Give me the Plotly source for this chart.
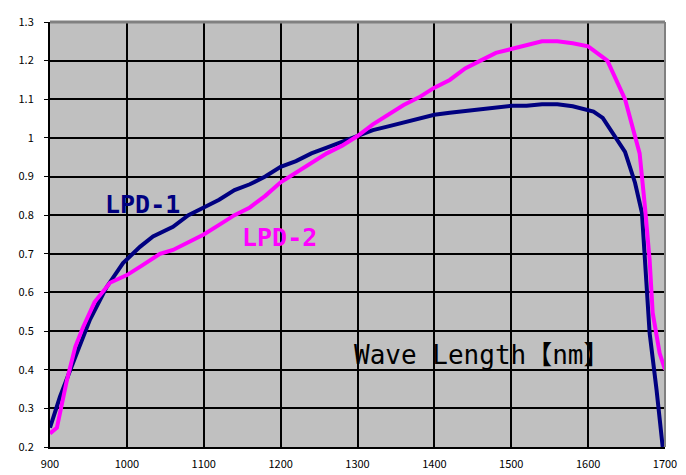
import plotly.graph_objects as go

wavelength_1 = [900, 913, 930, 952, 974, 995, 1017, 1034, 1060, 1080, 1100, 1120, 1140, 1160, 1180,
                1200, 1220, 1240, 1260, 1280, 1300, 1320, 1340, 1360, 1380, 1400, 1420, 1440, 1460,
                1480, 1500, 1520, 1540, 1560, 1580, 1607, 1619, 1648, 1661, 1670, 1674, 1680, 1689, 1697]
lpd1 = [0.25, 0.33, 0.418, 0.53, 0.615, 0.676, 0.718, 0.745, 0.77, 0.80, 0.82, 0.84, 0.865, 0.88, 0.90,
        0.925, 0.94, 0.96, 0.975, 0.99, 1.005, 1.02, 1.03, 1.04, 1.05, 1.06, 1.065, 1.07, 1.075,
        1.08, 1.083, 1.083, 1.087, 1.087, 1.082, 1.068, 1.052, 0.964, 0.884, 0.806, 0.666, 0.495, 0.348, 0.2]

wavelength_2 = [900, 909, 922, 933, 943, 958, 978, 1000, 1020, 1043, 1060, 1080, 1100, 1120, 1140, 1160, 1180,
                1200, 1220, 1240, 1260, 1280, 1300, 1320, 1340, 1360, 1380, 1400, 1420, 1440, 1460,
                1480, 1500, 1520, 1540, 1560, 1580, 1600, 1625, 1648, 1667, 1674, 1680, 1684, 1693, 1700]
lpd2 = [0.235, 0.25, 0.373, 0.46, 0.51, 0.575, 0.625, 0.645, 0.67, 0.70, 0.71, 0.73, 0.75, 0.775, 0.80, 0.82, 0.85,
        0.885, 0.91, 0.935, 0.96, 0.98, 1.005, 1.035, 1.06, 1.085, 1.105, 1.13, 1.15, 1.18, 1.20,
        1.22, 1.23, 1.24, 1.25, 1.25, 1.245, 1.237, 1.20, 1.10, 0.96, 0.82, 0.684, 0.547, 0.443, 0.40]

x_ticks = [900, 1000, 1100, 1200, 1300, 1400, 1500, 1600, 1700]
y_ticks = [0.2, 0.3, 0.4, 0.5, 0.6, 0.7, 0.8, 0.9, 1.0, 1.1, 1.2, 1.3]
y_tick_text = ["0.2", "0.3", "0.4", "0.5", "0.6", "0.7", "0.8", "0.9", "1", "1.1", "1.2", "1.3"]

font_jp = "Noto Sans CJK JP"
font_label = "DejaVu Sans Mono, Noto Sans CJK JP"

fig = go.Figure()
fig.add_trace(go.Scatter(x=wavelength_1, y=lpd1, mode="lines", name="LPD-1",
                         line=dict(color="#000080", width=4)))
fig.add_trace(go.Scatter(x=wavelength_2, y=lpd2, mode="lines", name="LPD-2",
                         line=dict(color="#FF00FF", width=4)))

fig.add_annotation(x=1020, y=0.827, text="<b>LPD-1</b>", showarrow=False,
                   font=dict(family=font_label, size=25, color="#000080"))
fig.add_annotation(x=1199, y=0.741, text="<b>LPD-2</b>", showarrow=False,
                   font=dict(family=font_label, size=25, color="#FF00FF"))
fig.add_annotation(x=1462, y=0.438, text="Wave Length【nm】", showarrow=False,
                   font=dict(family=font_label, size=26, color="black"))

# top and right border in gray
fig.add_shape(type="line", xref="paper", yref="paper", x0=0, x1=1, y0=1, y1=1,
              line=dict(color="#808080", width=3))
fig.add_shape(type="line", xref="paper", yref="paper", x0=1, x1=1, y0=0, y1=1,
              line=dict(color="#808080", width=2))

fig.update_layout(
    width=686, height=475,
    margin=dict(l=50, r=21, t=22, b=28, autoexpand=False),
    paper_bgcolor="white",
    plot_bgcolor="#C0C0C0",
    showlegend=False,
    font=dict(family=font_jp, size=11, color="black"),
)
fig.update_xaxes(range=[900, 1700], tickvals=x_ticks, showgrid=True, gridcolor="black", gridwidth=2,
                 showline=True, linecolor="black", linewidth=2, zeroline=False, automargin=False,
                 ticks="", ticklabelstandoff=6, tickfont=dict(size=11))
fig.update_yaxes(range=[0.2, 1.3], tickvals=y_ticks, ticktext=y_tick_text, showgrid=True,
                 gridcolor="black", gridwidth=2, automargin=False,
                 showline=True, linecolor="black", linewidth=2, zeroline=False,
                 ticks="outside", ticklen=4, tickcolor="black", tickwidth=1,
                 ticklabelstandoff=8, tickfont=dict(size=11))

fig.write_html("out.html", config={"displayModeBar": False},
               post_script="document.body.style.margin='0';document.body.style.overflow='hidden';")
